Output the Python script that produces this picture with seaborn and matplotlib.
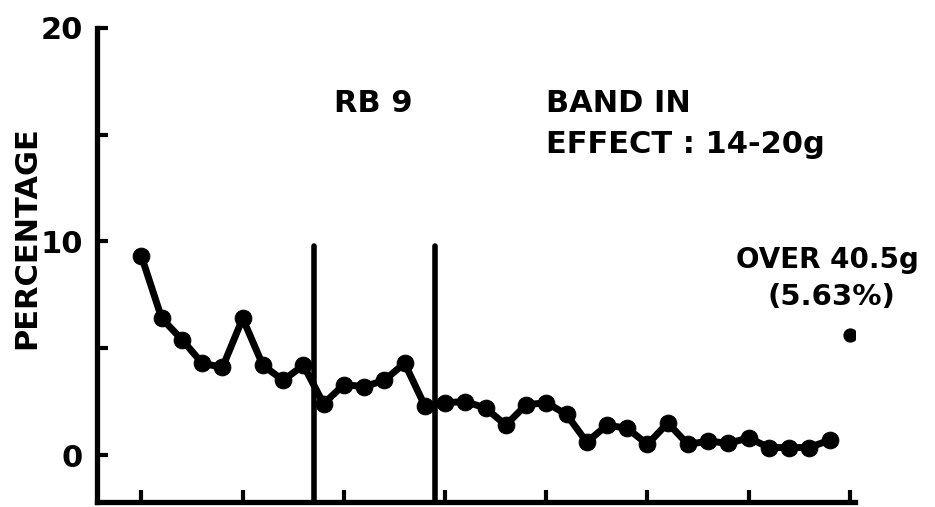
import matplotlib
matplotlib.use("Agg")
import matplotlib.pyplot as plt
import seaborn as sns
import pandas as pd

# ---- data ----
weights = [5.5, 6.5, 7.5, 8.5, 9.5, 10.5, 11.5, 12.5, 13.5, 14.5,
           15.5, 16.5, 17.5, 18.5, 19.5, 20.5, 21.5, 22.5, 23.5, 24.5,
           25.5, 26.5, 27.5, 28.5, 29.5, 30.5, 31.5, 32.5, 33.5, 34.5,
           35.5, 36.5, 37.5, 38.5, 39.5]
percentages = [9.3, 6.4, 5.4, 4.3, 4.1, 6.4, 4.2, 3.5, 4.2, 2.4,
               3.3, 3.2, 3.5, 4.3, 2.3, 2.45, 2.5, 2.2, 1.4, 2.35,
               2.45, 1.9, 0.6, 1.4, 1.25, 0.5, 1.5, 0.5, 0.65, 0.55,
               0.8, 0.35, 0.35, 0.35, 0.7]
over_weight = [40.5]
over_pct = [5.63]
band_limits = [14, 20]
band_line_top = 9.8
y_ticks = [0, 5, 10, 15, 20]
y_ticklabels = ["0", "", "10", "", "20"]
x_ticks = [5.5, 10.5, 15.5, 20.5, 25.5, 30.5, 35.5, 40.5]

df = pd.DataFrame({"weight": weights, "pct": percentages})
df_over = pd.DataFrame({"weight": over_weight, "pct": over_pct})

sns.set_theme(style="ticks")
plt.rcParams["font.family"] = ["DejaVu Sans"]
plt.rcParams["font.weight"] = "bold"

fig = plt.figure(figsize=(9.35, 5.07), dpi=100)
ax = fig.add_axes([0.1037, 0.0099, 0.8107, 0.935])

sns.lineplot(data=df, x="weight", y="pct", ax=ax, color="black",
             linewidth=5, marker="o", markersize=12,
             markeredgecolor="black", markerfacecolor="black")
sns.scatterplot(data=df_over, x="weight", y="pct", ax=ax, color="black",
                s=90, edgecolor="black")

ax.set_xlim(3.3, 40.75)
ax.set_ylim(-2.2, 20)

for b in band_limits:
    ax.plot([b, b], [-2.2, band_line_top], color="black", linewidth=4,
            solid_capstyle="round", clip_on=False)

ax.set_yticks(y_ticks)
ax.set_yticklabels(y_ticklabels, fontsize=22, fontweight="bold")
ax.set_xticks(x_ticks)
ax.set_xticklabels([])
ax.tick_params(axis="y", direction="in", length=8, width=3, pad=10,
               colors="black")
ax.tick_params(axis="x", direction="in", length=9, width=3, colors="black")

for s in ["top", "right"]:
    ax.spines[s].set_visible(False)
for s in ["left", "bottom"]:
    ax.spines[s].set_linewidth(3.8)
    ax.spines[s].set_color("black")

ax.set_xlabel("")
ax.set_ylabel("PERCENTAGE", fontsize=22, fontweight="bold", color="black")
ax.yaxis.set_label_coords(-0.092, 0.557)
ax.yaxis.label.set_va("center")

tkw = dict(fontweight="bold", color="black")
ax.text(15.0, 16.44, "RB 9", ha="left", va="center", fontsize=22, **tkw)
ax.text(25.5, 16.44, "BAND IN", ha="left", va="center", fontsize=22, **tkw)
ax.text(25.5, 14.52, "EFFECT : 14-20g", ha="left", va="center", fontsize=22, **tkw)
ax.text(39.4, 9.13, "OVER 40.5g", ha="center", va="center", fontsize=20, **tkw)
ax.text(39.6, 7.4, "(5.63%)", ha="center", va="center", fontsize=21, **tkw)

fig.savefig("out.png", dpi=100, facecolor="white")
